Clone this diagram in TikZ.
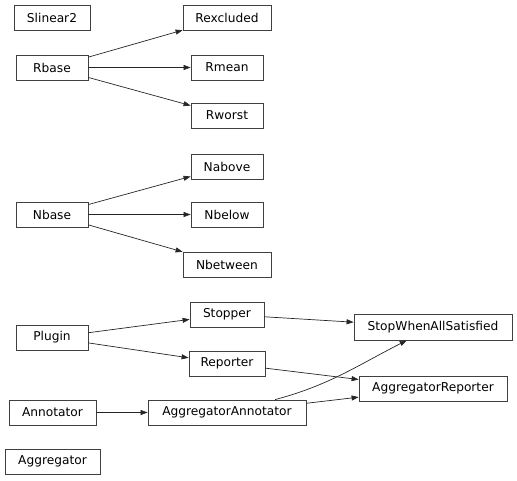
\documentclass[tikz,border=0pt]{standalone}
\usepackage{fontspec}
\setmainfont{DejaVu Sans}
\usetikzlibrary{arrows.meta}
\begin{document}
\begin{tikzpicture}[x=1pt,y=-1pt,
  cls/.style={draw=black!75,line width=0.8pt,inner sep=0pt,minimum height=25pt,
    font=\fontsize{12.2}{14}\selectfont,text=black},
  edge/.style={line width=0.7pt,black!85,-{Triangle[length=7pt,width=5pt]}}]
\useasboundingbox (0,0) rectangle (517,480);
\node[cls,minimum width=76pt] (slinear2) at (52,17.5) {Slinear2};
\node[cls,minimum width=88pt] (rexcluded) at (227,17.5) {Rexcluded};
\node[cls,minimum width=72pt] (rbase) at (52,67.5) {Rbase};
\node[cls,minimum width=72pt] (rmean) at (227,67.5) {Rmean};
\node[cls,minimum width=72pt] (rworst) at (227,115.5) {Rworst};
\node[cls,minimum width=72pt] (nabove) at (227,166.5) {Nabove};
\node[cls,minimum width=72pt] (nbase) at (52,214.5) {Nbase};
\node[cls,minimum width=72pt] (nbelow) at (227,214.5) {Nbelow};
\node[cls,minimum width=88pt] (nbetween) at (227,264.5) {Nbetween};
\node[cls,minimum width=74pt] (stopper) at (227,314.5) {Stopper};
\node[cls,minimum width=72pt] (plugin) at (52,337.5) {Plugin};
\node[cls,minimum width=158pt,minimum height=26pt] (swas) at (433,327) {StopWhenAllSatisfied};
\node[cls,minimum width=76pt] (reporter) at (227,363.5) {Reporter};
\node[cls,minimum width=148pt] (aggrep) at (433,388.5) {AggregatorReporter};
\node[cls,minimum width=87pt] (annotator) at (52.5,412.5) {Annotator};
\node[cls,minimum width=158pt] (aggann) at (227,412.5) {AggregatorAnnotator};
\node[cls,minimum width=95pt] (aggregator) at (52.5,461.5) {Aggregator};
\draw[edge] (rbase) -- (rexcluded);
\draw[edge] (rbase) -- (rmean);
\draw[edge] (rbase) -- (rworst);
\draw[edge] (nbase) -- (nabove);
\draw[edge] (nbase) -- (nbelow);
\draw[edge] (nbase) -- (nbetween);
\draw[edge] (plugin) -- (stopper);
\draw[edge] (plugin) -- (reporter);
\draw[edge] (stopper) -- (swas);
\draw[edge] (reporter) -- (aggrep);
\draw[edge] (aggann) -- (aggrep);
\draw[edge] (annotator) -- (aggann);
\draw[edge] (aggann) to[out=15,in=-153] (swas);
\end{tikzpicture}
\end{document}
